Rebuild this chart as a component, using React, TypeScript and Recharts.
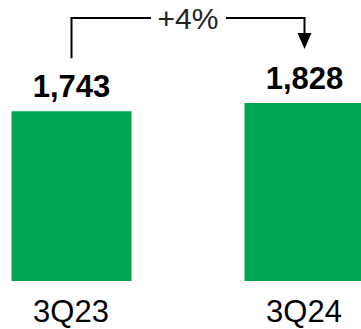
import React from 'react';
import { BarChart, Bar, XAxis, YAxis, LabelList } from 'recharts';

const categories = ['3Q23', '3Q24'];
const values = [1743, 1828];
const changeLabel = '+4%';

const data = categories.map((name, i) => ({ x: i, name, value: values[i] }));

const FONT = '"Liberation Sans", Arial, Helvetica, sans-serif';
const GREEN = '#00A651';

function makeArrowContent() {
  const geo: { cx: number; top: number }[] = [];
  return (props: any) => {
    const { x, y, width, index } = props;
    geo[index] = { cx: Number(x) + Number(width) / 2, top: Number(y) };
    if (index !== values.length - 1 || !geo[0]) return null;
    const a = geo[0];
    const b = geo[geo.length - 1];
    const level = Math.min(a.top, b.top) - 85;
    const mid = (a.cx + b.cx) / 2;
    const startY = a.top - 53;
    const tipY = b.top - 54;
    const headH = 16;
    const headW = 7;
    return (
      <g>
        <path
          d={`M${a.cx},${startY} L${a.cx},${level} L${mid - 37},${level}`}
          fill="none"
          stroke="#000"
          strokeWidth={2}
        />
        <path
          d={`M${mid + 38},${level} L${b.cx},${level} L${b.cx},${tipY - headH + 1}`}
          fill="none"
          stroke="#000"
          strokeWidth={2}
        />
        <polygon
          points={`${b.cx - headW},${tipY - headH} ${b.cx + headW},${tipY - headH} ${b.cx},${tipY}`}
          fill="#000"
        />
        <text
          x={mid}
          y={level + 11}
          textAnchor="middle"
          fontFamily={FONT}
          fontSize={30}
          fill="#222"
        >
          {changeLabel}
        </text>
      </g>
    );
  };
}

export default function App() {
  const arrowContent = React.useMemo(() => makeArrowContent(), []);
  return (
    <div style={{ position: 'absolute', left: 0, top: 0, background: '#fff' }}>
      <BarChart
        width={361}
        height={329}
        data={data}
        margin={{ top: 103, right: 0, bottom: 0, left: 0 }}
      >
        <XAxis
          type="number"
          dataKey="x"
          domain={[0, categories.length - 1]}
          ticks={categories.map((_, i) => i)}
          tickFormatter={(v: number) => categories[v]}
          padding={{ left: 71, right: 57 }}
          axisLine={false}
          tickLine={false}
          tickSize={6}
          tickMargin={13}
          height={48}
          tick={{ fontFamily: FONT, fontSize: 31, fill: '#000' }}
          interval={0}
        />
        <YAxis hide domain={[0, 'dataMax']} />
        <Bar dataKey="value" fill={GREEN} barSize={120} isAnimationActive={false}>
          <LabelList
            dataKey="value"
            position="top"
            offset={0}
            content={(p: any) => (
              <text
                x={Number(p.x) + Number(p.width) / 2}
                y={Number(p.y) - 14.5}
                textAnchor="middle"
                fontFamily={FONT}
                fontSize={31}
                fontWeight="bold"
                fill="#000"
              >
                {Number(p.value).toLocaleString('en-US')}
              </text>
            )}
          />
          <LabelList dataKey="value" content={arrowContent} />
        </Bar>
      </BarChart>
    </div>
  );
}
